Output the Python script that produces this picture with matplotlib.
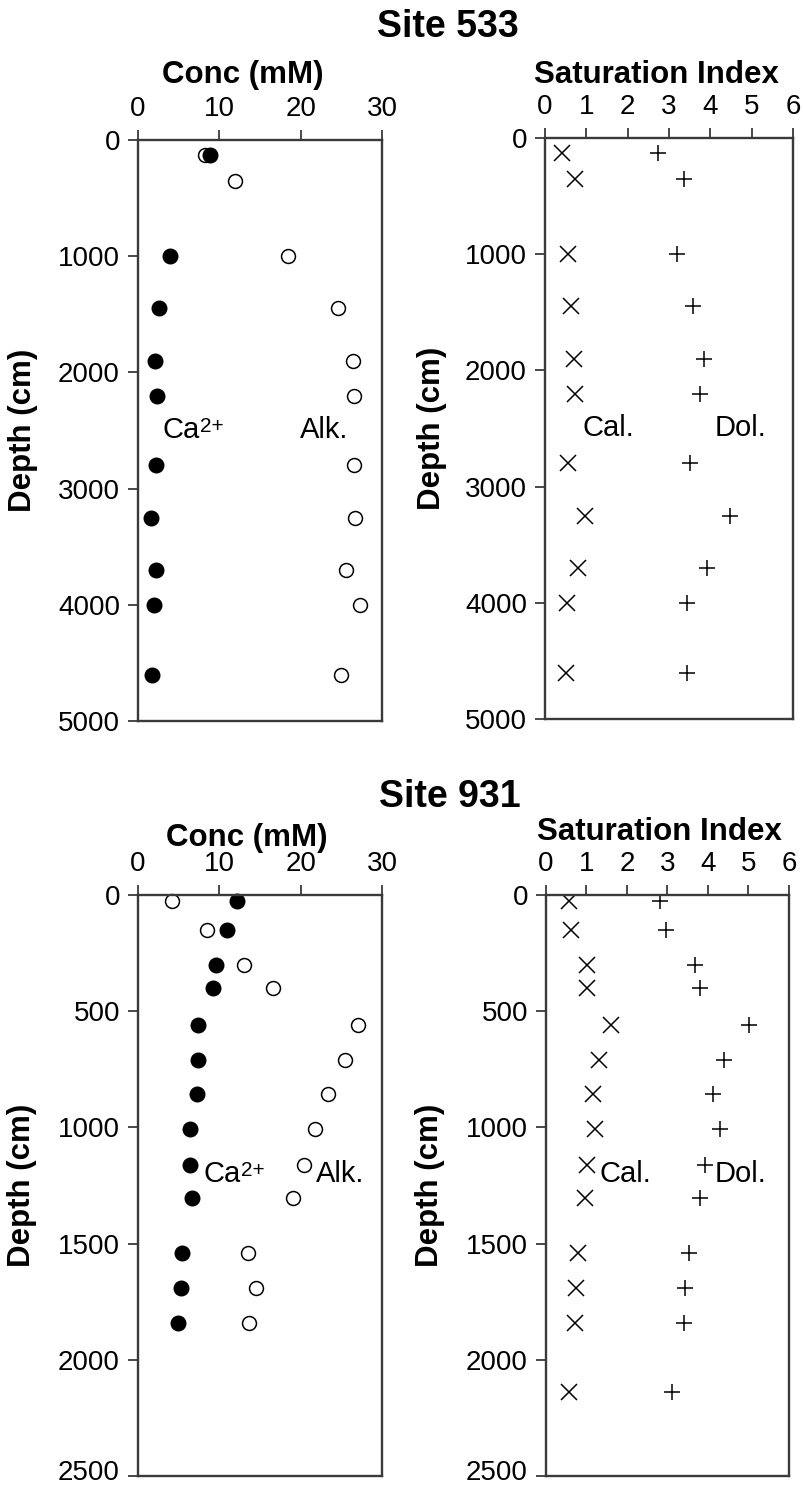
import matplotlib
matplotlib.use("Agg")
import matplotlib.pyplot as plt
from matplotlib.transforms import ScaledTranslation

plt.rcParams['font.family'] = ['Liberation Sans', 'DejaVu Sans']

# ---- Site 533 ----
depth_533 = [130, 350, 1000, 1450, 1900, 2200, 2800, 3250, 3700, 4000, 4600]
ca_533_depth = [130, 1000, 1450, 1900, 2200, 2800, 3250, 3700, 4000, 4600]
ca_533 = [8.9, 3.9, 2.6, 2.1, 2.3, 2.2, 1.6, 2.2, 2.0, 1.7]
alk_533 = [8.2, 11.9, 18.5, 24.6, 26.4, 26.6, 26.5, 26.7, 25.6, 27.3, 25.0]
cal_533 = [0.41, 0.73, 0.56, 0.63, 0.70, 0.73, 0.56, 0.97, 0.80, 0.53, 0.51]
dol_533 = [2.73, 3.36, 3.19, 3.58, 3.85, 3.75, 3.51, 4.48, 3.92, 3.44, 3.44]

# ---- Site 931 ----
depth_931 = [25, 150, 300, 400, 560, 710, 855, 1008, 1160, 1305, 1540, 1690, 1840]
ca_931 = [12.2, 11.0, 9.6, 9.2, 7.4, 7.4, 7.3, 6.4, 6.4, 6.6, 5.4, 5.3, 4.9]
alk_931 = [4.2, 8.5, 13.0, 16.6, 27.1, 25.5, 23.3, 21.8, 20.4, 19.0, 13.5, 14.5, 13.6]
si_depth_931 = [25, 150, 300, 400, 560, 710, 855, 1008, 1160, 1305, 1540, 1690, 1840, 2140]
cal_931 = [0.57, 0.62, 1.01, 1.01, 1.60, 1.31, 1.16, 1.21, 1.01, 0.96, 0.79, 0.74, 0.72, 0.57]
dol_931 = [2.81, 2.96, 3.68, 3.80, 5.01, 4.40, 4.12, 4.30, 3.93, 3.80, 3.53, 3.43, 3.41, 3.11]

conc_ticks = [0, 10, 20, 30]
si_ticks = [0, 1, 2, 3, 4, 5, 6]

W, H = 804, 1489
fig = plt.figure(figsize=(W / 100, H / 100), dpi=100)


def box(l, r, t, b):
    return [l / W, 1 - b / H, (r - l) / W, (b - t) / H]


ax1 = fig.add_axes(box(138, 382, 140, 721))
ax2 = fig.add_axes(box(545, 793, 138, 719))
ax3 = fig.add_axes(box(138, 382, 895, 1476))
ax4 = fig.add_axes(box(546, 789, 895, 1476))

spine_col = '#3a3a3a'


def style(ax, xlim, xticks, ylim, yticks, xlabel, lx, ly, yl):
    ax.set_xlim(*xlim)
    ax.set_ylim(ylim, 0)
    ax.set_xticks(xticks)
    ax.set_yticks(yticks)
    ax.xaxis.tick_top()
    ax.tick_params(axis='both', direction='out', length=7, width=1.3,
                   color=spine_col, labelsize=20, pad=6)
    for s in ax.spines.values():
        s.set_color(spine_col)
        s.set_linewidth(1.7)
    ax.text(lx, ly, xlabel, transform=ax.transAxes, ha='center',
            va='center', fontsize=22.5, fontweight='bold')
    ax.set_ylabel('Depth (cm)', fontsize=22.5, fontweight='bold')
    ax.yaxis.set_label_coords(yl, 0.5)


def ca_label(ax, x, y):
    t = ax.text(x, y, 'Ca', fontsize=21, va='center')
    ax.annotate('2+', xy=(1.0, 0.97), xycoords=t, fontsize=15, va='top')


circ = dict(linestyle='none', marker='o', markersize=10.5, clip_on=False)
open_c = dict(linestyle='none', marker='o', markersize=10, mfc='white',
              mec='black', mew=1.1, clip_on=False)
xk = dict(linestyle='none', marker='x', markersize=11, color='black', mew=1.1)
pk = dict(linestyle='none', marker='+', markersize=12, color='black', mew=1.1)

# Site 533 concentrations
ax1.plot(alk_533, depth_533, **open_c)
ax1.plot(ca_533, ca_533_depth, color='black', **circ)
style(ax1, (0, 30), conc_ticks, 5000, range(0, 5001, 1000), 'Conc (mM)',
      0.43, 1.112, -0.41)
ca_label(ax1, 3.0, 2500)
ax1.text(19.9, 2500, 'Alk.', fontsize=21, va='center')

# Site 533 saturation
ax2.plot(cal_533, depth_533, **xk)
ax2.plot(dol_533, depth_533, **pk)
style(ax2, (0, 6), si_ticks, 5000, range(0, 5001, 1000), 'Saturation Index',
      0.448, 1.108, -0.395)
ax2.text(0.9, 2500, 'Cal.', fontsize=21, va='center')
ax2.text(4.1, 2500, 'Dol.', fontsize=21, va='center')

# Site 931 concentrations
ax3.plot(alk_931, depth_931, **open_c)
ax3.plot(ca_931, depth_931, color='black', **circ)
style(ax3, (0, 30), conc_ticks, 2500, range(0, 2501, 500), 'Conc (mM)',
      0.447, 1.098, -0.414)
ca_label(ax3, 8.1, 1200)
ax3.text(21.9, 1200, 'Alk.', fontsize=21, va='center')

# Site 931 saturation
ax4.plot(cal_931, si_depth_931, **xk)
ax4.plot(dol_931, si_depth_931, **pk)
style(ax4, (0, 6), si_ticks, 2500, range(0, 2501, 500), 'Saturation Index',
      0.465, 1.108, -0.416)
ax4.text(1.33, 1200, 'Cal.', fontsize=21, va='center')
ax4.text(4.17, 1200, 'Dol.', fontsize=21, va='center')

# lift the bottom-most depth labels a little so they stay inside the figure
lift = ScaledTranslation(0, 4 / 72, fig.dpi_scale_trans)
for ax in (ax3, ax4):
    lab = ax.get_yticklabels()[-1]
    lab.set_transform(lab.get_transform() + lift)

fig.text(448 / W, 1 - 27 / H, 'Site 533', ha='center', va='center',
         fontsize=27, fontweight='bold')
fig.text(450 / W, 1 - 797 / H, 'Site 931', ha='center', va='center',
         fontsize=27, fontweight='bold')

fig.savefig('out.png', dpi=100)
